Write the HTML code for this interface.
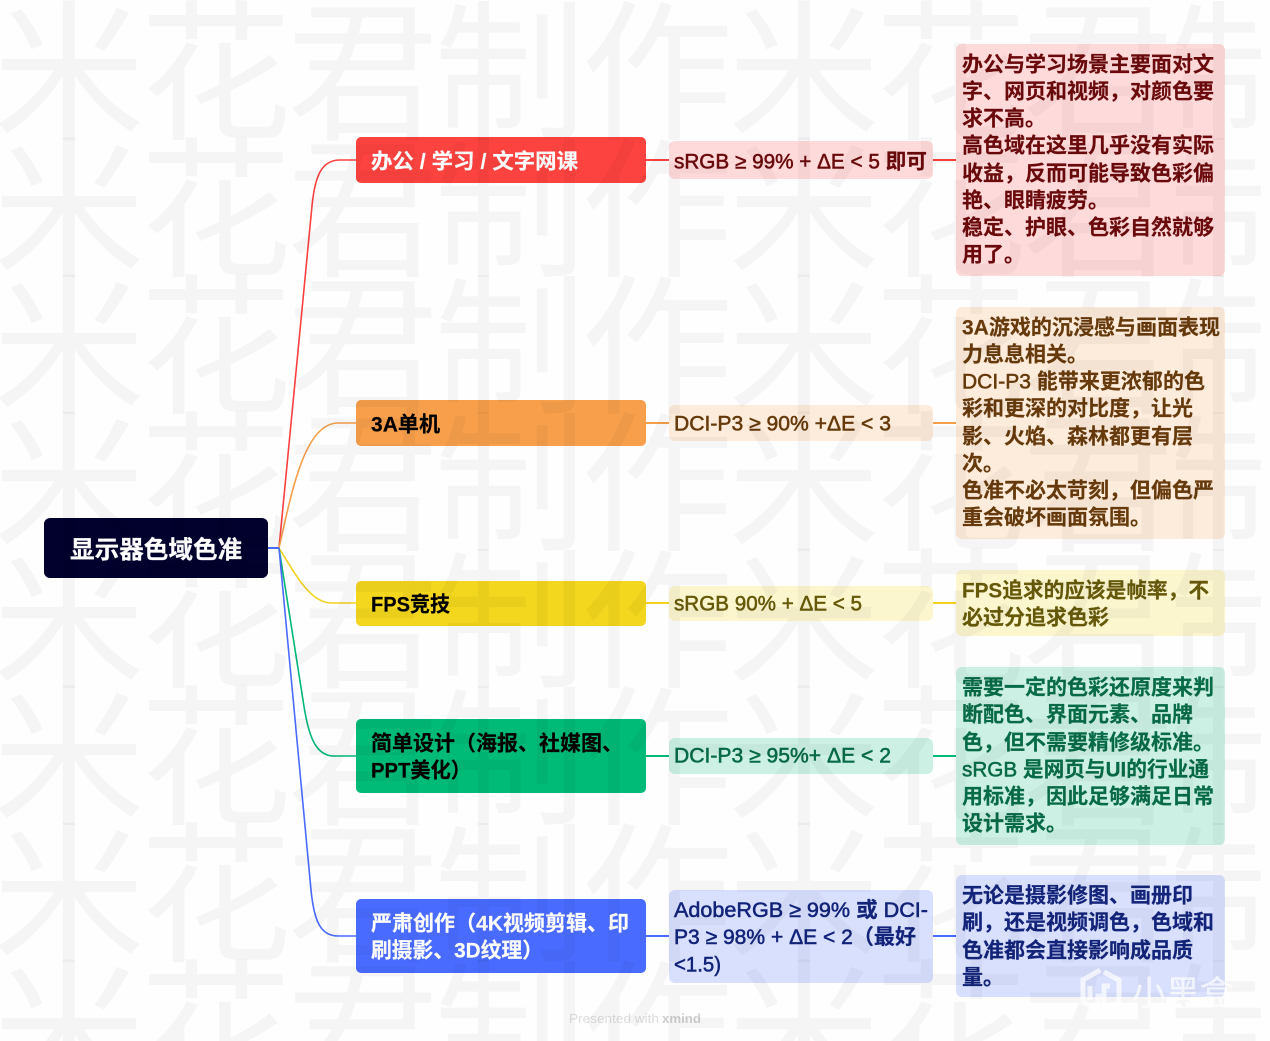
<!DOCTYPE html>
<html lang="zh"><head><meta charset="utf-8"><title>显示器色域色准</title>
<style>
html,body{margin:0;padding:0;background:#fefefe;width:1270px;height:1041px;overflow:hidden}
body{position:relative}
svg{display:block;position:absolute;left:0;top:0}
text{font-family:"Liberation Sans","Noto Sans CJK SC",sans-serif;font-weight:700;font-size:21px;stroke:currentColor;stroke-width:.2}
.l{font-weight:400;stroke:currentColor;stroke-width:.55}
.wm{position:absolute;left:-7px;top:-6px;width:1277px;height:1047px;overflow:hidden;white-space:nowrap;font-family:"Noto Sans CJK SC",sans-serif;font-weight:400;font-size:152px;line-height:137px;letter-spacing:-5px;color:rgba(0,0,0,.036)}
.k{fill:#000;color:#000}.w{fill:#fff;color:#fff}
.r{fill:#6b0a0c;color:#6b0a0c}.o{fill:#663a0c;color:#663a0c}.y{fill:#665a0a;color:#665a0a}.g{fill:#086b47;color:#086b47}.b{fill:#13247a;color:#13247a}
</style></head><body>
<svg xmlns="http://www.w3.org/2000/svg" width="1270" height="1041" viewBox="0 0 1270 1041">
<g fill="none" stroke-width="1.6">
<path d="M279 548 L312 206 C315 175 322 160 340 160 H356" stroke="#fb4240"/>
<path d="M279 548 C292 490 305 423 338 423 H356" stroke="#f69f4a"/>
<path d="M279 548 C296 575 310 603 332 603 H356" stroke="#f2d21e"/>
<path d="M279 548 L303 700 C308 735 315 756 334 756 H356" stroke="#00b876"/>
<path d="M279 548 L311 890 C314 920 320 936 338 936 H356" stroke="#4a6bff"/>
<path d="M268 548 H279" stroke="#4a6bff" stroke-width="2"/>
</g>
<g stroke-width="2">
<path d="M646 160H669M933 160H956" stroke="#fb4240"/>
<path d="M646 423H669M933 423H956" stroke="#f69f4a"/>
<path d="M646 603H669M933 603H956" stroke="#f2d21e"/>
<path d="M646 756H669M933 756H956" stroke="#00b876"/>
<path d="M646 936H669M933 936H956" stroke="#4a6bff"/>
</g>
<rect x="44" y="518" width="224" height="60" rx="6" fill="#02002d"/>
<rect x="356" y="137" width="290" height="46" rx="5" fill="#fc4340"/>
<rect x="356" y="400" width="290" height="46" rx="5" fill="#f79f4b"/>
<rect x="356" y="581" width="290" height="45" rx="5" fill="#f3d61e"/>
<rect x="356" y="719" width="290" height="74" rx="5" fill="#00ba78"/>
<rect x="356" y="899" width="290" height="74" rx="5" fill="#4a6bff"/>
<rect x="669" y="141" width="264" height="38" rx="6" fill="#ffdadb"/>
<rect x="669" y="405" width="264" height="36" rx="6" fill="#fdecdb"/>
<rect x="669" y="586" width="264" height="35" rx="6" fill="#fcf6cf"/>
<rect x="669" y="738" width="264" height="36" rx="6" fill="#ccf1e4"/>
<rect x="669" y="890" width="264" height="93" rx="6" fill="#d9e0fe"/>
<rect x="956" y="44" width="269" height="232" rx="6" fill="#ffdadb"/>
<rect x="956" y="307" width="269" height="232" rx="6" fill="#fdecdb"/>
<rect x="956" y="570" width="269" height="66" rx="6" fill="#fcf6cf"/>
<rect x="956" y="667" width="269" height="178" rx="6" fill="#ccf1e4"/>
<rect x="956" y="875" width="269" height="122" rx="6" fill="#d9e0fe"/>

<text class="w" x="70" y="558" style="font-size:24.6px">显示器色域色准</text>
<text class="w" x="371" y="168.5" textLength="207" lengthAdjust="spacingAndGlyphs">办公 / 学习 / 文字网课</text>
<text class="k" x="371" y="431.5" textLength="69" lengthAdjust="spacingAndGlyphs">3A单机</text>
<text class="k" x="371" y="611.5" textLength="79" lengthAdjust="spacingAndGlyphs">FPS竞技</text>
<text class="k" x="371" y="750.5">简单设计（海报、社媒图、</text>
<text class="k" x="371" y="777.5" textLength="100" lengthAdjust="spacingAndGlyphs">PPT美化）</text>
<text class="w" x="371" y="930.5" textLength="258" lengthAdjust="spacingAndGlyphs">严肃创作（4K视频剪辑、印</text>
<text class="w" x="371" y="957.5" textLength="172" lengthAdjust="spacingAndGlyphs">刷摄影、3D纹理）</text>

<text class="r" x="674" y="168.5" textLength="253" lengthAdjust="spacingAndGlyphs"><tspan class="l">sRGB ≥ 99% + ΔE &lt; 5 </tspan>即可</text>
<text class="o" x="674" y="430.5" textLength="217" lengthAdjust="spacingAndGlyphs"><tspan class="l">DCI-P3 ≥ 90% +ΔE &lt; 3</tspan></text>
<text class="y" x="674" y="610.5" textLength="188" lengthAdjust="spacingAndGlyphs"><tspan class="l">sRGB 90% + ΔE &lt; 5</tspan></text>
<text class="g" x="674" y="762.5" textLength="217" lengthAdjust="spacingAndGlyphs"><tspan class="l">DCI-P3 ≥ 95%+ ΔE &lt; 2</tspan></text>
<text class="b" x="674" y="917" textLength="254" lengthAdjust="spacingAndGlyphs"><tspan class="l">AdobeRGB ≥ 99% </tspan>或<tspan class="l"> DCI-</tspan></text>
<text class="b" x="674" y="944" textLength="242" lengthAdjust="spacingAndGlyphs"><tspan class="l">P3 ≥ 98% + ΔE &lt; 2</tspan>（最好</text>
<text class="b" x="674" y="971.5" textLength="47" lengthAdjust="spacingAndGlyphs"><tspan class="l">&lt;1.5)</tspan></text>

<g class="r">
<text x="962" y="71.5">办公与学习场景主要面对文</text>
<text x="962" y="98.5">字、网页和视频，对颜色要</text>
<text x="962" y="125.5">求不高。</text>
<text x="962" y="152.5">高色域在这里几乎没有实际</text>
<text x="962" y="180.5">收益，反而可能导致色彩偏</text>
<text x="962" y="207.5">艳、眼睛疲劳。</text>
<text x="962" y="234.5">稳定、护眼、色彩自然就够</text>
<text x="962" y="261.5">用了。</text>
</g>
<g class="o">
<text x="962" y="334.5" textLength="258" lengthAdjust="spacingAndGlyphs">3A游戏的沉浸感与画面表现</text>
<text x="962" y="361.5">力息息相关。</text>
<text x="962" y="388.5" textLength="243" lengthAdjust="spacingAndGlyphs"><tspan class="l">DCI-P3 </tspan>能带来更浓郁的色</text>
<text x="962" y="415.5">彩和更深的对比度，让光</text>
<text x="962" y="443.5">影、火焰、森林都更有层</text>
<text x="962" y="470.5">次。</text>
<text x="962" y="497.5">色准不必太苛刻，但偏色严</text>
<text x="962" y="524.5">重会破坏画面氛围。</text>
</g>
<g class="y">
<text x="962" y="597.5" textLength="247" lengthAdjust="spacingAndGlyphs">FPS追求的应该是帧率，不</text>
<text x="962" y="624.5">必过分追求色彩</text>
</g>
<g class="g">
<text x="962" y="694.5">需要一定的色彩还原度来判</text>
<text x="962" y="721.5">断配色、界面元素、品牌</text>
<text x="962" y="749.5">色，但不需要精修级标准。</text>
<text x="962" y="776.5" textLength="247" lengthAdjust="spacingAndGlyphs"><tspan class="l">sRGB </tspan>是网页与UI的行业通</text>
<text x="962" y="803.5">用标准，因此足够满足日常</text>
<text x="962" y="830.5">设计需求。</text>
</g>
<g class="b">
<text x="962" y="902.5">无论是摄影修图、画册印</text>
<text x="962" y="929.5">刷，还是视频调色，色域和</text>
<text x="962" y="957.5">色准都会直接影响成品质</text>
<text x="962" y="984.5">量。</text>
</g>

<text x="569" y="1023" style="font-size:13px;font-weight:400;fill:#dcdcdc;stroke:none" textLength="90" lengthAdjust="spacingAndGlyphs">Presented with</text>
<text x="662" y="1023" style="font-size:13px;fill:#d0d0d0;stroke:none" textLength="39" lengthAdjust="spacingAndGlyphs">xmind</text>
</svg>
<div class="wm">米花君制作米花君制<br>米花君制作米花君制<br>米花君制作米花君制<br>米花君制作米花君制<br>米花君制作米花君制<br>米花君制作米花君制<br>米花君制作米花君制<br>米花君制作米花君制</div>
<svg xmlns="http://www.w3.org/2000/svg" width="1270" height="1041" viewBox="0 0 1270 1041">
<path d="M1100 970 L1083 980 V1002 L1098 1010 V996 H1104 M1090 986 V1000 M1104 972 L1119 980 V1002 L1104 1010 V986 H1110" fill="none" stroke="#fff" stroke-opacity=".7" stroke-width="5"/>
<text x="1132" y="1005" style="font-size:34px;font-weight:400;fill:#fff;fill-opacity:.7;color:#fff;stroke:#fff;stroke-opacity:.4;stroke-width:.6">小黑盒</text>
</svg>
</body></html>
